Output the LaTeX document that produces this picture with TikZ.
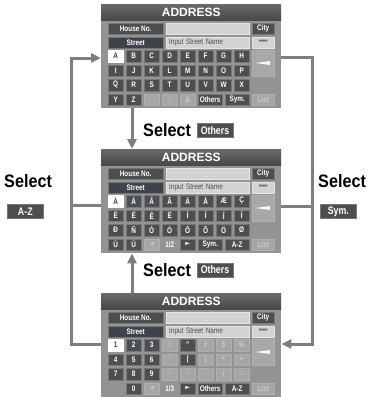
\documentclass[tikz,border=0pt]{standalone}
\usepackage{fontspec}
\setmainfont{Liberation Sans}
\newfontfamily\condf[FakeStretch=0.8]{Liberation Sans}
\newfontfamily\self[FakeStretch=0.9]{Liberation Sans}
\newfontfamily\symf{DejaVu Sans}
\usetikzlibrary{arrows.meta}
\definecolor{panelbg}{HTML}{939393}
\definecolor{titletop}{HTML}{6A6A6A}
\definecolor{titlebot}{HTML}{474747}
\definecolor{keydk}{HTML}{4E4E4E}
\definecolor{keyedge}{HTML}{777777}
\definecolor{keyoff}{HTML}{A6A6A6}
\definecolor{keyoffedge}{HTML}{B0B0B0}
\definecolor{txtoff}{HTML}{CBCBCB}
\definecolor{fieldbg}{HTML}{D3D3D3}
\definecolor{fieldedge}{HTML}{E6E6E6}
\definecolor{streetbg}{HTML}{3E434A}
\definecolor{conncol}{HTML}{7E7E7E}
\definecolor{bigkey}{HTML}{A8A8A8}
\newcommand\keyfont{\condf\bfseries\fontsize{8}{9}\selectfont}
\tikzset{
  panel/.style={anchor=north west, inner sep=0pt, fill=panelbg, minimum width=180pt, minimum height=104pt},
  titlebar/.style={anchor=north west, inner sep=0pt, top color=titletop, bottom color=titlebot, minimum width=180pt, minimum height=16pt, text=white, font=\bfseries\fontsize{12}{13}\selectfont},
  key/.style={anchor=north west, inner sep=0pt, minimum width=15pt, minimum height=11.5pt, fill=keydk, draw=keyedge, line width=0.4pt, text=white, font=\keyfont},
  off/.style={fill=keyoff, draw=keyoffedge, text=txtoff},
  selk/.style={fill=white, draw=white, text=black!75},
  plain/.style={anchor=north west, inner sep=0pt, minimum width=15pt, minimum height=11.5pt, text=white, font=\keyfont},
  hbtn/.style={anchor=north west, inner sep=0pt, minimum width=55pt, minimum height=10.5pt, fill=keydk, draw=keyedge, line width=0.4pt, text=white, font=\condf\bfseries\fontsize{8}{9}\selectfont},
  field/.style={anchor=north west, inner ysep=0pt, inner xsep=3pt, minimum height=10.5pt, fill=fieldbg, draw=fieldedge, line width=0.4pt, text=black!70, font=\condf\fontsize{8}{9}\selectfont},
  bigk/.style={anchor=north west, inner sep=0pt, minimum width=22pt, minimum height=26pt, fill=bigkey, draw=keyoffedge, line width=0.4pt},
  conn/.style={draw=conncol, line width=3pt, line join=miter},
  tip/.style={-{Triangle[length=10pt,width=9pt]}},
  seltext/.style={inner sep=0pt, font=\self\bfseries\fontsize{18}{19}\selectfont, text=black},
  btn/.style={inner sep=0pt, minimum width=36pt, minimum height=14pt, fill=keydk, draw=keyedge, line width=0.6pt, text=white, font=\condf\bfseries\fontsize{11}{12}\selectfont}
}
% key: screen, y0, col, row, label, style
\newcommand\kk[6]{\node[key,#6] (#1k#3#4) at ({108+18*#3},{#2+46+14.5*#4}) {#5};}
% wide key: screen, y0, index, label
\newcommand\wk[4]{\node[key,minimum width=24pt] (#1w#3) at ({198+27*#3},{#2+89.5}) {#4};}
\newcommand\screen[2]{%
  \node[panel] (#1) at (101,#2) {};
  \node[titlebar] (#1t) at (101,#2) {ADDRESS};
  \node[hbtn] (#1h) at (108,{#2+19}) {House No.};
  \node[field,text width=77pt] (#1f) at (166,{#2+19}) {};
  \node[hbtn,minimum width=22pt] (#1c) at (252,{#2+19}) {City};
  \node[hbtn,fill=streetbg] (#1s) at (108,{#2+33}) {Street};
  \node[field,text width=77pt,align=left] (#1n) at (166,{#2+33}) {Input Street Name};
  \node[field,inner xsep=0pt,minimum width=22pt,font=\condf\bfseries\fontsize{7}{8}\selectfont] (#1p) at (252,{#2+33}) {****};
  \node[bigk] (#1b) at (252,{#2+46}) {};
  \fill[white!95!gray] (255.5,{#2+59}) -- (270,{#2+57}) -- (270,{#2+61}) -- cycle;
  \node[key,off,minimum width=22pt] (#1l) at (252,{#2+89.5}) {List};
}
\begin{document}
\begin{tikzpicture}[x=1pt,y=-1pt]
\useasboundingbox (0,0) rectangle (368,397);
\fill[white] (0,0) rectangle (368,397);

% ---------- screen 1 ----------
\screen{sa}{4}
\kk{sa}{4}{0}{0}{A}{selk}
\kk{sa}{4}{1}{0}{B}{}
\kk{sa}{4}{2}{0}{C}{}
\kk{sa}{4}{3}{0}{D}{}
\kk{sa}{4}{4}{0}{E}{}
\kk{sa}{4}{5}{0}{F}{}
\kk{sa}{4}{6}{0}{G}{}
\kk{sa}{4}{7}{0}{H}{}
\kk{sa}{4}{0}{1}{I}{}
\kk{sa}{4}{1}{1}{J}{}
\kk{sa}{4}{2}{1}{K}{}
\kk{sa}{4}{3}{1}{L}{}
\kk{sa}{4}{4}{1}{M}{}
\kk{sa}{4}{5}{1}{N}{}
\kk{sa}{4}{6}{1}{O}{}
\kk{sa}{4}{7}{1}{P}{}
\kk{sa}{4}{0}{2}{Q}{}
\kk{sa}{4}{1}{2}{R}{}
\kk{sa}{4}{2}{2}{S}{}
\kk{sa}{4}{3}{2}{T}{}
\kk{sa}{4}{4}{2}{U}{}
\kk{sa}{4}{5}{2}{V}{}
\kk{sa}{4}{6}{2}{W}{}
\kk{sa}{4}{7}{2}{X}{}
\kk{sa}{4}{0}{3}{Y}{}
\kk{sa}{4}{1}{3}{Z}{}
\kk{sa}{4}{2}{3}{\_}{off}
\kk{sa}{4}{3}{3}{-}{off}
\kk{sa}{4}{4}{3}{\&}{off}
\wk{sa}{4}{0}{Others}
\wk{sa}{4}{1}{Sym.}

% ---------- screen 2 ----------
\screen{sb}{149}
\kk{sb}{149}{0}{0}{À}{selk}
\kk{sb}{149}{1}{0}{Á}{}
\kk{sb}{149}{2}{0}{Â}{}
\kk{sb}{149}{3}{0}{Ã}{}
\kk{sb}{149}{4}{0}{Ä}{}
\kk{sb}{149}{5}{0}{Å}{}
\kk{sb}{149}{6}{0}{Æ}{}
\kk{sb}{149}{7}{0}{Ç}{}
\kk{sb}{149}{0}{1}{È}{}
\kk{sb}{149}{1}{1}{É}{}
\kk{sb}{149}{2}{1}{Ê}{}
\kk{sb}{149}{3}{1}{Ë}{}
\kk{sb}{149}{4}{1}{Ì}{}
\kk{sb}{149}{5}{1}{Í}{}
\kk{sb}{149}{6}{1}{Î}{}
\kk{sb}{149}{7}{1}{Ï}{}
\kk{sb}{149}{0}{2}{Ð}{}
\kk{sb}{149}{1}{2}{Ñ}{}
\kk{sb}{149}{2}{2}{Ò}{}
\kk{sb}{149}{3}{2}{Ó}{}
\kk{sb}{149}{4}{2}{Ô}{}
\kk{sb}{149}{5}{2}{Õ}{}
\kk{sb}{149}{6}{2}{Ö}{}
\kk{sb}{149}{7}{2}{Ø}{}
\kk{sb}{149}{0}{3}{Ù}{}
\kk{sb}{149}{1}{3}{Ú}{}
\kk{sb}{149}{2}{3}{{\symf\fontsize{6}{7}\selectfont ◄}}{off}
\node[plain] (sbpg) at (162,{149+89.5}) {1/2};
\kk{sb}{149}{4}{3}{{\symf\fontsize{6}{7}\selectfont ►}}{}
\wk{sb}{149}{0}{Sym.}
\wk{sb}{149}{1}{A-Z}

% ---------- screen 3 ----------
\screen{sc}{293}
\kk{sc}{293}{0}{0}{1}{selk}
\kk{sc}{293}{1}{0}{2}{}
\kk{sc}{293}{2}{0}{3}{}
\kk{sc}{293}{3}{0}{!}{off}
\kk{sc}{293}{4}{0}{"}{}
\kk{sc}{293}{5}{0}{\#}{off}
\kk{sc}{293}{6}{0}{\$}{off}
\kk{sc}{293}{7}{0}{\%}{off}
\kk{sc}{293}{0}{1}{4}{}
\kk{sc}{293}{1}{1}{5}{}
\kk{sc}{293}{2}{1}{6}{}
\kk{sc}{293}{3}{1}{\textquotesingle}{off}
\kk{sc}{293}{4}{1}{(}{}
\kk{sc}{293}{5}{1}{)}{off}
\kk{sc}{293}{6}{1}{*}{off}
\kk{sc}{293}{7}{1}{+}{off}
\kk{sc}{293}{0}{2}{7}{}
\kk{sc}{293}{1}{2}{8}{}
\kk{sc}{293}{2}{2}{9}{}
\kk{sc}{293}{3}{2}{,}{off}
\kk{sc}{293}{4}{2}{-}{off}
\kk{sc}{293}{5}{2}{.}{off}
\kk{sc}{293}{6}{2}{/}{off}
\kk{sc}{293}{7}{2}{:}{off}
\kk{sc}{293}{1}{3}{0}{}
\kk{sc}{293}{2}{3}{{\symf\fontsize{6}{7}\selectfont ◄}}{off}
\node[plain] (scpg) at (162,{293+89.5}) {1/3};
\kk{sc}{293}{4}{3}{{\symf\fontsize{6}{7}\selectfont ►}}{}
\wk{sc}{293}{0}{Others}
\wk{sc}{293}{1}{A-Z}

% ---------- connectors ----------
\coordinate (lt) at (71,58);
\coordinate (lm) at (71,205);
\coordinate (lb) at (71,344);
\draw[conn] (sb.west |- lm) -- (lm);
\draw[conn,tip] (sc.west |- lb) -- (lb) -- (lt) -- (sa.west |- lt);

\coordinate (rt) at (312,57);
\coordinate (rm) at (312,206);
\coordinate (rb) at (312,344);
\draw[conn] (sb.east |- rm) -- (rm);
\draw[conn,tip] (sa.east |- rt) -- (rt) -- (rb) -- (sc.east |- rb);

\coordinate (mx) at (132,0);
\draw[conn,tip] (sa.south -| mx) -- (sb.north -| mx);
\draw[conn,tip] (sc.north -| mx) -- (sb.south -| mx);

% ---------- labels ----------
\node[seltext,anchor=west] (l1) at (143,130) {Select};
\node[btn] (b1) at (215,130.5) {Others};
\node[seltext,anchor=west] (l2) at (143,270) {Select};
\node[btn] (b2) at (215,270) {Others};
\node[seltext,anchor=west] (l3) at (4,181) {Select};
\node[btn,anchor=north west] (b3) at (7,204) {A-Z};
\node[seltext,anchor=west] (l4) at (318,181) {Select};
\node[btn,anchor=north west] (b4) at (320,204) {Sym.};
\end{tikzpicture}
\end{document}
